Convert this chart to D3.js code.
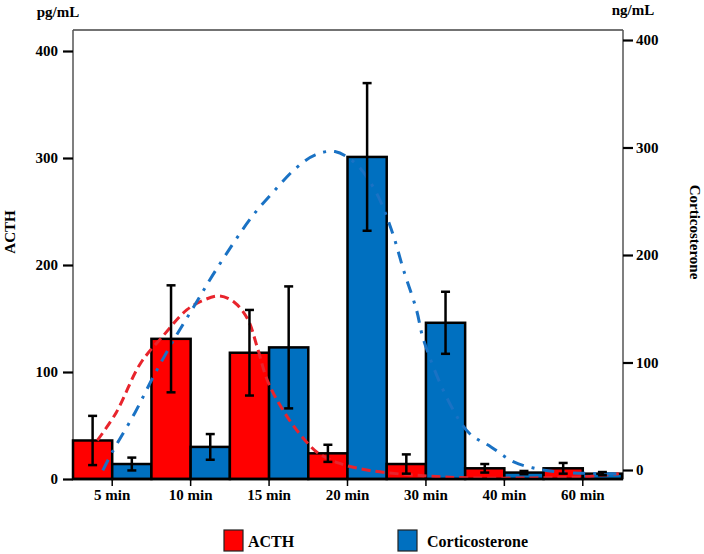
<!DOCTYPE html>
<html><head><meta charset="utf-8">
<script src="https://cdn.jsdelivr.net/npm/d3@7/dist/d3.min.js"></script>
<style>
body{margin:0;background:#fff;}
text{font-family:"Liberation Serif","Times New Roman",serif;font-weight:bold;fill:#000;}
</style></head><body>
<svg id="c" width="704" height="554"></svg>
<script>
const categories = ["5 min","10 min","15 min","20 min","30 min","40 min","60 min"];
const acth = [36, 131, 118, 24, 14, 10, 10];
const acthErr = [23, 50, 40, 8, 9, 4, 5];
const cort = [14, 30, 123, 301, 146, 6, 5];
const cortErr = [6, 12, 57, 69, 29, 1.5, 1.5];
const leftTicks = [0, 100, 200, 300, 400];
const rightTicks = [0, 100, 200, 300, 400];
// smooth trend curves: [category position, value]
const acthCurve = [[-0.19,36],[0.05,62],[0.36,108],[0.64,133],[0.95,158],[1.16,167],[1.37,171],[1.56,165],[1.73,149],[1.85,123],[1.99,90],[2.26,55],[2.51,32],[2.63,24],[2.88,15],[3.28,8],[3.97,3],[4.59,1],[5.35,1],[6.0,2],[6.46,5]];
const cortCurve = [[-0.12,8],[0.0,25],[0.29,62],[0.52,95],[0.76,127],[1.04,161],[1.32,195],[1.77,244],[2.05,268],[2.35,291],[2.59,303],[2.84,306],[3.1,295],[3.35,270],[3.56,233],[3.72,194],[3.88,158],[3.97,130],[4.28,74],[4.55,43],[4.83,30],[5.12,16],[5.45,9],[5.80,6],[6.26,5],[6.46,5]];

const svg = d3.select("#c");
const X0 = 73, X1 = 622;
const yL = d3.scaleLinear().domain([0,400]).range([479,51]);
const yR = d3.scaleLinear().domain([0,400]).range([470,40]);
const xG = d3.scaleBand().domain(categories).range([X0,X1]).padding(0);
const xS = d3.scaleBand().domain(["a","c"]).range([0,xG.bandwidth()]).padding(0);
const xC = d3.scaleLinear().domain([-0.5,6.5]).range([X0,X1]);
const RED = "#ff0000", BLUE = "#0070c0";

// frame
svg.append("line").attr("x1",X0).attr("x2",623).attr("y1",30).attr("y2",30).attr("stroke","#444").attr("stroke-width",1.5);
svg.append("line").attr("x1",X0).attr("x2",X0).attr("y1",30).attr("y2",479).attr("stroke","#555").attr("stroke-width",1.5);
svg.append("line").attr("x1",623).attr("x2",623).attr("y1",30).attr("y2",479).attr("stroke","#555").attr("stroke-width",1.5);

// left axis
const gl = svg.append("g").attr("transform",`translate(${X0},0)`)
  .call(d3.axisLeft(yL).tickValues(leftTicks).tickSize(10).tickPadding(5));
gl.select(".domain").remove();
gl.selectAll(".tick line").attr("stroke","#000").attr("stroke-width",2.2);
gl.selectAll(".tick text").style("font-size","15px");
// right axis
const gr = svg.append("g").attr("transform",`translate(623,0)`)
  .call(d3.axisRight(yR).tickValues(rightTicks).tickSize(10).tickPadding(3));
gr.select(".domain").remove();
gr.selectAll(".tick line").attr("stroke","#000").attr("stroke-width",2.2);
gr.selectAll(".tick text").style("font-size","15px");

// bars
const grp = svg.append("g").selectAll("g").data(categories).join("g")
  .attr("transform",d=>`translate(${xG(d)},0)`);
grp.append("rect").attr("x",xS("a")).attr("width",xS.bandwidth())
  .attr("y",(d,i)=>yL(acth[i])).attr("height",(d,i)=>yL(0)-yL(acth[i]))
  .attr("fill",RED).attr("stroke","#000").attr("stroke-width",2.5);
grp.append("rect").attr("x",xS("c")).attr("width",xS.bandwidth())
  .attr("y",(d,i)=>yL(cort[i])).attr("height",(d,i)=>yL(0)-yL(cort[i]))
  .attr("fill",BLUE).attr("stroke","#000").attr("stroke-width",2.5);

// curves
const line = d3.line().x(d=>xC(d[0])).y(d=>yL(d[1])).curve(d3.curveCatmullRom.alpha(0.5));
svg.append("path").attr("d",line(acthCurve)).attr("fill","none").attr("stroke","#e8242c")
  .attr("stroke-width",3).attr("stroke-dasharray","9,5");
svg.append("path").attr("d",line(cortCurve)).attr("fill","none").attr("stroke","#1a72c4")
  .attr("stroke-width",3).attr("stroke-dasharray","12,8,3,8");

// error bars
function errBars(vals, errs, key){
  const g = svg.append("g");
  categories.forEach((c,i)=>{
    const cx = xG(c) + xS(key) + xS.bandwidth()/2;
    const t = yL(vals[i]+errs[i]), b = yL(Math.max(0,vals[i]-errs[i]));
    g.append("line").attr("x1",cx).attr("x2",cx).attr("y1",t).attr("y2",b).attr("stroke","#000").attr("stroke-width",2.5);
    [t,b].forEach(y=>g.append("line").attr("x1",cx-4.5).attr("x2",cx+4.5).attr("y1",y).attr("y2",y).attr("stroke","#000").attr("stroke-width",2.5));
  });
}
errBars(acth, acthErr, "a");
errBars(cort, cortErr, "c");

// baseline and x axis
svg.append("line").attr("x1",X0).attr("x2",X1+1).attr("y1",479).attr("y2",479).attr("stroke","#000").attr("stroke-width",2.5);
const gx = svg.append("g").attr("transform","translate(0,479)")
  .call(d3.axisBottom(xG).tickSize(7).tickPadding(3));
gx.select(".domain").remove();
gx.selectAll(".tick line").attr("stroke","#000").attr("stroke-width",1.5);
gx.selectAll(".tick text").style("font-size","15px");

// titles
svg.append("text").attr("x",58).attr("y",17).attr("text-anchor","middle").style("font-size","15px").text("pg/mL");
svg.append("text").attr("x",633).attr("y",15).attr("text-anchor","middle").style("font-size","15px").text("ng/mL");
svg.append("text").attr("transform","translate(15,232) rotate(-90)").attr("text-anchor","middle").style("font-size","15px").text("ACTH");
svg.append("text").attr("transform","translate(690,232) rotate(90)").attr("text-anchor","middle").style("font-size","15px").text("Corticosterone");

// legend
const legend = [["ACTH",RED,224],["Corticosterone",BLUE,398]];
legend.forEach(([name,col,x])=>{
  svg.append("rect").attr("x",x).attr("y",530).attr("width",19).attr("height",21).attr("fill",col).attr("stroke","#222").attr("stroke-width",1.2);
  svg.append("text").attr("x",x+(name==="ACTH"?24:29)).attr("y",547).style("font-size","16px").text(name);
});
</script></body></html>
